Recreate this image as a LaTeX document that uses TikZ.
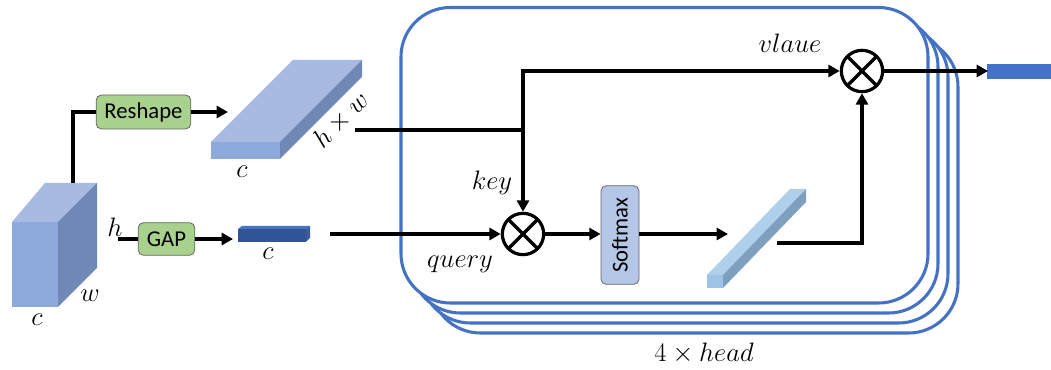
\RequirePackage{fix-cm}
\documentclass[tikz,border=0pt]{standalone}
\usepackage{graphicx}
\usepackage{fontspec}
\newfontfamily\carlito{Carlito}
\usetikzlibrary{arrows.meta}
\definecolor{hblue}{HTML}{4472C4}
\definecolor{ctop}{HTML}{A6BAE2}
\definecolor{cfront}{HTML}{8EA9DB}
\definecolor{cside}{HTML}{7088B6}
\definecolor{dtop}{HTML}{4A74BE}
\definecolor{dfront}{HTML}{2F5597}
\definecolor{stop}{HTML}{B0CFEA}
\definecolor{sside}{HTML}{7F9FBF}
\definecolor{sfront}{HTML}{9DC3E6}
\definecolor{gfill}{HTML}{A9D18E}
\definecolor{softfill}{HTML}{B4C7E7}
\begin{document}
\begin{tikzpicture}[x=0.75pt,y=-0.75pt,
  conn/.style={line width=2.4pt,black},
  arr/.style={conn,-{Triangle[length=8.5pt,width=9pt]}},
  headbox/.style={line width=2.3pt,draw=hblue,fill=white,rounded corners=37pt},
  opbox/.style={draw=black!60,line width=0.6pt,rounded corners=4pt,font=\carlito\fontsize{17}{20}\selectfont,inner sep=0pt},
  otimes/.style={circle,draw,line width=2.4pt,minimum size=31pt,inner sep=0pt,
    path picture={\draw[line width=2.4pt] (path picture bounding box.north west) -- (path picture bounding box.south east)
      (path picture bounding box.north east) -- (path picture bounding box.south west);}},
  lab/.style={font=\fontsize{20}{24}\selectfont,inner sep=0pt}]
\useasboundingbox (0,0) rectangle (1051,370);

% multi-head frames
\draw[headbox] (431,37.5) rectangle (958,333);
\draw[headbox] (421,27.5) rectangle (948,323);
\draw[headbox] (411,17.5) rectangle (938,313);
\draw[headbox] (401,7.5) rectangle (928,303);

% input cube
\fill[ctop] (12,222) -- (45,183) -- (97,183) -- (58,222) -- cycle;
\fill[cside] (58,222) -- (97,183) -- (97,268) -- (58,307) -- cycle;
\fill[cfront] (12,222) rectangle (58,307);
\coordinate (cubetop) at (73,183);
\node[lab] (lc1) at (37,320) {$c$};
\node[lab] (lw) at (90,296) {$w$};
\node[lab] (lh) at (115,227) {$h$};

% reshape branch
\node[opbox,fill=gfill,minimum width=71pt,minimum height=25.5pt] (resh) at (143.5,112) {Reshape};
\draw[conn] (cubetop) |- (resh.west);
\coordinate (slabin) at (228,112);
\draw[arr] (resh.east) -- (resh.east -| slabin);
\fill[ctop] (211,142) -- (293,60) -- (362,60) -- (280,142) -- cycle;
\fill[cside] (280,142) -- (362,60) -- (362,77) -- (280,159) -- cycle;
\fill[cfront] (211,142) rectangle (280,159);
\node[lab] (lc2) at (242,172) {$c$};
\node[lab,rotate=45] (lhw) at (341,120) {$h\times w$};

% GAP branch
\coordinate (gapstart) at (118,239);
\node[opbox,fill=gfill,minimum width=42.5pt,minimum height=24.5pt] (gap) at (166.5,239) {GAP};
\draw[conn] (gapstart) -- (gapstart -| gap.west);
\coordinate (barin) at (233,239);
\draw[arr] (gap.east) -- (gap.east -| barin);
\fill[dtop] (238,229) -- (242,226) -- (310,226) -- (306,229) -- cycle;
\fill[dtop!80!black] (306,229) -- (310,226) -- (310,238) -- (306,242) -- cycle;
\fill[dfront] (238,229) rectangle (306,242);
\node[lab] (lc3) at (268,254) {$c$};

% attention
\node[otimes] (q) at (523,234) {};
\node[otimes] (v) at (862,71) {};
\coordinate (keystart) at (355,130);
\coordinate (qstart) at (330,234);
\draw[arr] (keystart) -| (q.north);
\draw[arr,line cap=rect] (q.north |- keystart) |- (v.west);
\draw[arr] (qstart) -- (q.west);
\node[lab] (lkey) at (492,183) {$key$};
\node[lab] (lquery) at (460,264) {$query$};
\node[lab] (lvalue) at (790,43) {$vlaue$};

\node[opbox,fill=softfill,minimum width=28.5pt,minimum height=74pt] (soft) at (620,235) {\rotatebox{90}{Softmax}};
\draw[arr] (q.east) -- (q.east -| soft.west);
\coordinate (attnin) at (728,234);
\draw[arr] (q.east -| soft.east) -- (attnin);

% attention map bar
\fill[stop] (707,275) -- (790,189) -- (806,189) -- (723,275) -- cycle;
\fill[sside] (723,275) -- (806,189) -- (806,202) -- (723,288) -- cycle;
\fill[sfront] (707,275) rectangle (723,288);
\coordinate (attnout) at (777,243);
\draw[arr] (attnout) -| (v.south);

% output
\fill[hblue] (987,64) rectangle (1051,79);
\coordinate (outin) at (988,71);
\draw[arr] (v.east) -- (outin);

\node[lab] (lheads) at (704,353) {$4\times head$};
\end{tikzpicture}
\end{document}
